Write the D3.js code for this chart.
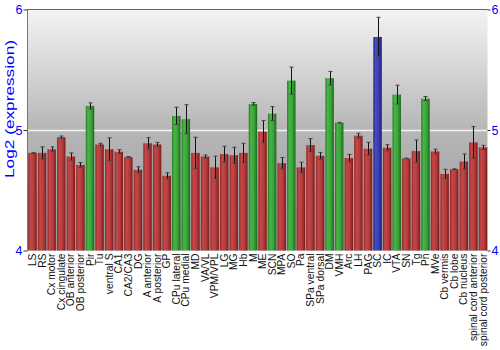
<!DOCTYPE html>
<html>
<head>
<meta charset="utf-8">
<script src="https://cdn.jsdelivr.net/npm/d3@7"></script>
<style>
  html, body { margin: 0; padding: 0; background: #fff; }
  svg { display: block; font-family: "Liberation Sans", Arial, sans-serif; }
</style>
</head>
<body>
<svg id="chart" width="500" height="350"></svg>
<script>
// Brain regions along the x axis
const regions = ["LS", "RS", "Cx motor", "Cx cingulate", "OB anterior", "OB posterior", "Pir", "Tu",
  "ventral S", "CA1", "CA2/CA3", "DG", "A anterior", "A posterior", "GP", "CPu lateral", "CPu medial",
  "MD", "VA/VL", "VPM/VPL", "LG", "MG", "Hb", "M", "ME", "SCN", "MPA", "SO", "Pa", "SPa ventral",
  "SPa dorsal", "DM", "VMH", "Arc", "LH", "PAG", "SC", "IC", "VTA", "SN", "Tg", "Pn", "MVe",
  "Cb vermis", "Cb lobe", "Cb nucleus", "spinal cord anterior", "spinal cord posterior"];

// Mean log2 expression per region
const expression = [4.81, 4.81, 4.84, 4.94, 4.78, 4.71, 5.20, 4.88,
  4.84, 4.82, 4.775, 4.67, 4.89, 4.88, 4.62, 5.117, 5.09,
  4.81, 4.78, 4.69, 4.80, 4.79, 4.81, 5.217, 4.986, 5.136, 4.725, 5.41, 4.69, 4.875,
  4.786, 5.43, 5.06, 4.767, 4.953, 4.845, 5.772, 4.853, 5.294, 4.764, 4.825, 5.261, 4.822,
  4.636, 4.675, 4.739, 4.897, 4.856];

// Error (+/-) per region
const errors = [0.004, 0.05, 0.02, 0.01, 0.03, 0.02, 0.025, 0.01,
  0.095, 0.017, 0.005, 0.025, 0.047, 0.017, 0.025, 0.072, 0.12,
  0.13, 0.013, 0.093, 0.065, 0.067, 0.08, 0.011, 0.092, 0.058, 0.047, 0.112, 0.043, 0.054,
  0.028, 0.056, 0.003, 0.03, 0.02, 0.053, 0.163, 0.025, 0.078, 0.003, 0.092, 0.017, 0.019,
  0.038, 0.003, 0.062, 0.132, 0.017];

// Highlight group per region: r = baseline, g = enriched, b = top
const groups = ["r","r","r","r","r","r","g","r",
  "r","r","r","r","r","r","r","g","g",
  "r","r","r","r","r","r","g","r","g","r","g","r","r",
  "r","g","g","r","r","r","b","r","g","r","r","g","r",
  "r","r","r","r","r"];

const yTicks = [4, 5, 6];

(function draw() {
  const svg = d3.select("#chart");
  const pLeft = 27.5, pRight = 487.5, pTop = 9.5, pBottom = 250.5;

  const x = d3.scaleBand().domain(regions).range([pLeft + 0.5, pRight]).paddingInner(0.12).paddingOuter(0.03);
  const y = d3.scaleLinear().domain([4, 6]).range([pBottom, pTop]);

  const defs = svg.append("defs");
  const bg = defs.append("linearGradient").attr("id", "bg").attr("x1", 0).attr("y1", 0).attr("x2", 0).attr("y2", 1);
  bg.append("stop").attr("offset", "0%").attr("stop-color", "#f3f3f3");
  bg.append("stop").attr("offset", "50%").attr("stop-color", "#b6b6b6");
  bg.append("stop").attr("offset", "100%").attr("stop-color", "#9a9a9a");

  const palettes = {
    r: ["#8e2323", "#c44848", "#b53b3b", "#7a1a1a"],
    g: ["#237a23", "#49b549", "#39a339", "#1b661b"],
    b: ["#23237a", "#4949c4", "#3b3bb5", "#1a1a7a"]
  };
  Object.entries(palettes).forEach(([k, c]) => {
    const g = defs.append("linearGradient").attr("id", "bar-" + k).attr("x1", 0).attr("y1", 0).attr("x2", 1).attr("y2", 0);
    g.append("stop").attr("offset", "0%").attr("stop-color", c[0]);
    g.append("stop").attr("offset", "25%").attr("stop-color", c[1]);
    g.append("stop").attr("offset", "65%").attr("stop-color", c[2]);
    g.append("stop").attr("offset", "100%").attr("stop-color", c[3]);
  });

  // plot background
  svg.append("rect").attr("x", pLeft).attr("y", pTop).attr("width", pRight - pLeft).attr("height", pBottom - pTop)
    .attr("fill", "url(#bg)");

  // grid line at 5
  svg.append("line").attr("x1", pLeft).attr("x2", pRight)
    .attr("y1", Math.round(y(5)) + 0.5).attr("y2", Math.round(y(5)) + 0.5)
    .attr("stroke", "#f4f4f4").attr("stroke-width", 1.5);

  // bars
  const data = regions.map((r, i) => ({ r, v: expression[i], e: errors[i], g: groups[i] }));
  svg.append("g").selectAll("rect").data(data).join("rect")
    .attr("x", d => x(d.r)).attr("width", x.bandwidth())
    .attr("y", d => y(d.v)).attr("height", d => y(4) - y(d.v))
    .attr("fill", d => "url(#bar-" + d.g + ")");

  // error bars
  const eb = svg.append("g").attr("stroke", "#111").attr("stroke-width", 1);
  data.forEach(d => {
    const cx = Math.round(x(d.r) + x.bandwidth() / 2) + 0.5;
    const y1 = y(d.v + d.e), y2 = y(d.v - d.e);
    eb.append("line").attr("x1", cx).attr("x2", cx).attr("y1", y1).attr("y2", y2);
    eb.append("line").attr("x1", cx - 2).attr("x2", cx + 2).attr("y1", y1).attr("y2", y1).attr("stroke", "#444");
    eb.append("line").attr("x1", cx - 2).attr("x2", cx + 2).attr("y1", y2).attr("y2", y2).attr("stroke", "#444");
  });

  // frame: left axis line and top border
  svg.append("line").attr("x1", pLeft).attr("x2", pLeft).attr("y1", pTop).attr("y2", pBottom).attr("stroke", "#777");
  svg.append("line").attr("x1", pLeft).attr("x2", pRight).attr("y1", pTop).attr("y2", pTop).attr("stroke", "#666");

  const styleAxis = g => {
    g.select(".domain").remove();
    g.selectAll(".tick line").attr("stroke", "#333");
    g.selectAll("text").attr("fill", "#0000ff").attr("font-size", 12.5)
      .attr("font-family", "Liberation Sans, Arial, sans-serif");
  };

  // left axis
  svg.append("g").attr("transform", `translate(${pLeft},0)`)
    .call(d3.axisLeft(y).tickValues(yTicks).tickFormat(d3.format("d")).tickSize(4).tickPadding(1))
    .call(styleAxis);

  // right axis
  svg.append("g").attr("transform", `translate(${pRight},0)`)
    .call(d3.axisRight(y).tickValues(yTicks).tickFormat(d3.format("d")).tickSize(3).tickPadding(1))
    .call(styleAxis);

  // y axis title
  svg.append("text").attr("transform", `translate(14,109) rotate(-90)`)
    .attr("text-anchor", "middle").attr("fill", "#0000ff").attr("font-size", 12.5)
    .attr("textLength", 138).attr("lengthAdjust", "spacingAndGlyphs")
    .text("Log2 (expression)");

  // region labels, rotated
  svg.append("g").selectAll("text").data(regions).join("text")
    .attr("transform", d => `translate(${x(d) + x.bandwidth() / 2 + 3.6},${pBottom + 3}) rotate(-90)`)
    .attr("text-anchor", "end").attr("font-size", 10.3).attr("fill", "#111")
    .text(d => d);
})();
</script>
</body>
</html>
